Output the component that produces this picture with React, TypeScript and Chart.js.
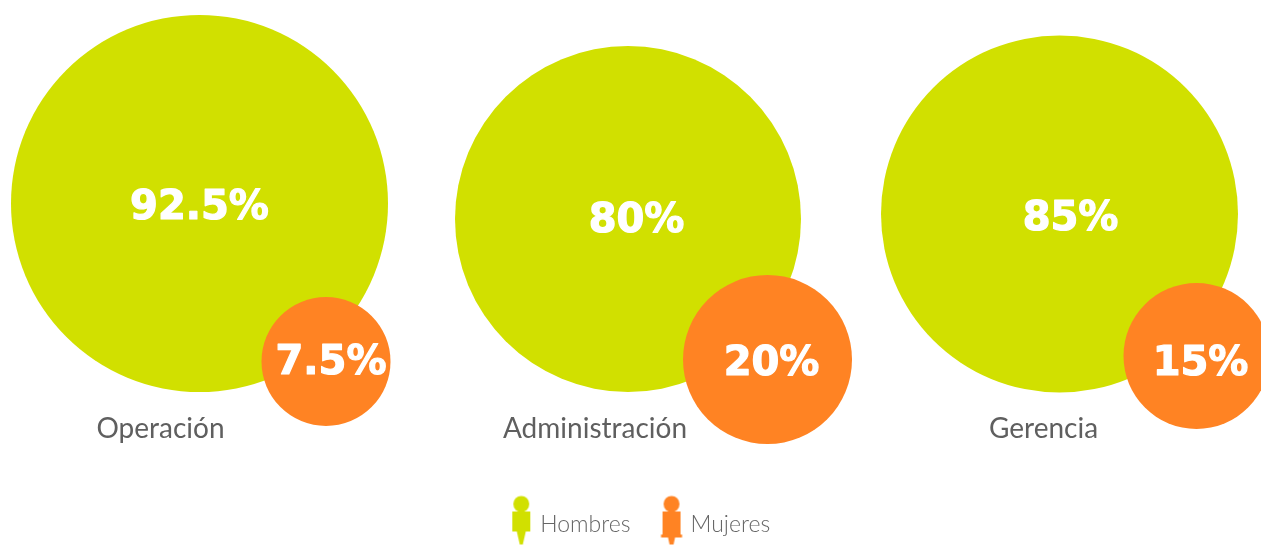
import React, { useEffect, useRef } from "react";
import { Chart, registerables } from "chart.js";

Chart.register(...registerables);

const categories = ["Operación", "Administración", "Gerencia"];
const hombres = [92.5, 80, 85];
const mujeres = [7.5, 20, 15];
const hombresLabels = ["92.5%", "80%", "85%"];
const mujeresLabels = ["7.5%", "20%", "15%"];

const GREEN = "#d1e000";
const ORANGE = "#ff8323";

// Bubble-layout (placement is free in this chart; only the size reads as data)
const hombresPlace = [
  { x: 199.5, y: 203.5, r: 188.5 },
  { x: 628, y: 219, r: 173 },
  { x: 1059.5, y: 214, r: 178.5 },
];
const mujeresPlace = [
  { x: 326, y: 361.5, r: 64.5 },
  { x: 767.5, y: 359.5, r: 84.5 },
  { x: 1196.5, y: 356, r: 73 },
];
const hombresLabelAt = [
  { x: 199.5, y: 209 },
  { x: 636.5, y: 222 },
  { x: 1070.5, y: 220 },
];
const mujeresLabelAt = [
  { x: 331, y: 364 },
  { x: 771.5, y: 364.5 },
  { x: 1200.5, y: 364.5 },
];
const categoryAt = [
  { x: 160.5, y: 429 },
  { x: 595, y: 429 },
  { x: 1043.5, y: 429 },
];

function personIcon(color: string, skirt: boolean) {
  const c = document.createElement("canvas");
  c.width = 24;
  c.height = 60;
  const g = c.getContext("2d")!;
  g.fillStyle = color;
  const cx = 12;
  const top = 2;
  g.beginPath();
  g.arc(cx, top + 7.5, 8, 0, Math.PI * 2);
  g.fill();
  g.fillRect(cx - 9, top + 15, 18, skirt ? 23 : 20);
  if (skirt) {
    g.fillRect(cx - 10.5, top + 38, 21, 3);
    g.beginPath();
    g.moveTo(cx - 3.5, top + 41);
    g.lineTo(cx + 3.5, top + 41);
    g.lineTo(cx + 2, top + 48);
    g.lineTo(cx - 2, top + 48);
    g.closePath();
    g.fill();
  } else {
    g.beginPath();
    g.moveTo(cx - 4.5, top + 35);
    g.lineTo(cx + 4.5, top + 35);
    g.lineTo(cx + 1.5, top + 48);
    g.lineTo(cx - 1.5, top + 48);
    g.closePath();
    g.fill();
  }
  return c;
}

const textPlugin = {
  id: "bubbleText",
  afterDatasetsDraw(chart: any) {
    const { ctx, scales } = chart;
    const px = (p: { x: number; y: number }) => [scales.x.getPixelForValue(p.x), scales.y.getPixelForValue(p.y)];
    const pct = (t: string, x: number, y: number) => {
      ctx.fillText(t, x, y);
      ctx.strokeText(t, x, y);
    };
    ctx.save();
    ctx.textAlign = "center";
    ctx.textBaseline = "middle";
    ctx.fillStyle = "#ffffff";
    ctx.strokeStyle = "#ffffff";
    ctx.lineWidth = 1.2;
    ctx.lineJoin = "round";
    ctx.font = "900 40px 'DejaVu Sans'";
    hombresLabels.forEach((t, i) => {
      const [x, y] = px(hombresLabelAt[i]);
      pct(t, x, y);
    });
    mujeresLabels.forEach((t, i) => {
      const [x, y] = px(mujeresLabelAt[i]);
      pct(t, x, y);
    });
    ctx.fillStyle = "#5f5f5f";
    ctx.font = "400 28px Lato";
    categories.forEach((t, i) => {
      const [x, y] = px(categoryAt[i]);
      ctx.fillText(t, x, y);
    });
    ctx.restore();
  },
};

const LEFT_PAD = 23;

export default function App() {
  const ref = useRef<HTMLCanvasElement>(null);
  useEffect(() => {
    const chart = new Chart(ref.current!, {
      type: "bubble",
      data: {
        datasets: [
          {
            label: "Hombres",
            data: hombresPlace.map((p, i) => ({ ...p, v: hombres[i] })),
            backgroundColor: GREEN,
            borderWidth: 0,
            hoverBorderWidth: 0,
            order: 2,
            clip: false,
          },
          {
            label: "Mujeres",
            data: mujeresPlace.map((p, i) => ({ ...p, v: mujeres[i] })),
            backgroundColor: ORANGE,
            borderWidth: 0,
            hoverBorderWidth: 0,
            order: 1,
            clip: false,
          },
        ] as any,
      },
      options: {
        animation: false,
        responsive: false,
        layout: { padding: { left: LEFT_PAD, top: 0, right: 0, bottom: -1 }, autoPadding: false },
        scales: {
          x: { type: "linear", display: false, min: LEFT_PAD, max: 1261 },
          y: { type: "linear", display: false, reverse: true, min: 0, max: 479.5 },
        },
        plugins: {
          tooltip: { enabled: false },
          legend: {
            display: true,
            position: "bottom",
            align: "center",
            onClick: () => {},
            labels: {
              usePointStyle: true,
              pointStyleWidth: 15,
              padding: 33.5,
              color: "#666666",
              font: { family: "Lato", size: 23, weight: "300" },
              generateLabels: () => [
                { text: "Hombres", pointStyle: personIcon(GREEN, false), fontColor: "#666666", datasetIndex: 0 },
                { text: "Mujeres", pointStyle: personIcon(ORANGE, true), fontColor: "#666666", datasetIndex: 1 },
              ] as any,
            },
          },
        },
      },
      plugins: [textPlugin],
    } as any);
    return () => chart.destroy();
  }, []);
  return <canvas ref={ref} width={1261} height={545} style={{ position: "fixed", left: 0, top: 0, display: "block" }} />;
}
